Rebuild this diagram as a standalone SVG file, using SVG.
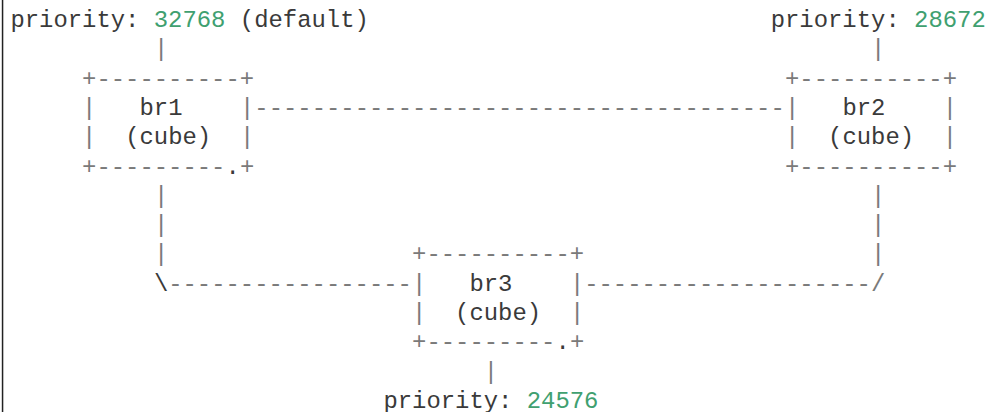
<svg xmlns="http://www.w3.org/2000/svg" width="987" height="412" viewBox="0 0 987 412">
<style>
text{font-family:"Liberation Mono","Courier New",monospace;font-size:23.9px;fill:#3a3a3a;white-space:pre}
.o{fill:#7a7a7a}
.n{fill:#40a070}
</style>
<rect x="0" y="0" width="987" height="412" fill="#ffffff"/>
<rect x="1.8" y="0" width="1.5" height="412" fill="#222222"/>
<g id="prio1">
<text x="10.4" y="27" xml:space="preserve">priority: <tspan class="n">32768</tspan> (default)</text>
</g>
<g id="prio2">
<text x="770.7" y="27" xml:space="preserve">priority: <tspan class="n">28672</tspan></text>
</g>
<g id="prio3">
<text x="383.4" y="407.9" xml:space="preserve">priority: <tspan class="n">24576</tspan></text>
</g>
<g id="br1">
<text x="82.1" y="85.6" class="o">+----------+</text>
<text x="82.1" y="114.9" class="o">|</text>
<text x="139.5" y="114.9">br1</text>
<text x="239.9" y="114.9" class="o">|</text>
<text x="82.1" y="144.2" class="o">|</text>
<text x="125.2" y="144.2">(cube)</text>
<text x="239.9" y="144.2" class="o">|</text>
<text x="82.1" y="173.5" class="o">+---------</text>
<text x="225.6" y="173.5">.</text>
<text x="239.9" y="173.5" class="o">+</text>
</g>
<g id="br2">
<text x="785.0" y="85.6" class="o">+----------+</text>
<text x="785.0" y="114.9" class="o">|</text>
<text x="842.4" y="114.9">br2</text>
<text x="942.8" y="114.9" class="o">|</text>
<text x="785.0" y="144.2" class="o">|</text>
<text x="828.1" y="144.2">(cube)</text>
<text x="942.8" y="144.2" class="o">|</text>
<text x="785.0" y="173.5" class="o">+----------+</text>
</g>
<g id="br3">
<text x="412.1" y="261.4" class="o">+----------+</text>
<text x="412.1" y="290.7" class="o">|</text>
<text x="469.4" y="290.7">br3</text>
<text x="569.9" y="290.7" class="o">|</text>
<text x="412.1" y="320" class="o">|</text>
<text x="455.1" y="320">(cube)</text>
<text x="569.9" y="320" class="o">|</text>
<text x="412.1" y="349.3" class="o">+---------</text>
<text x="555.5" y="349.3">.</text>
<text x="569.9" y="349.3" class="o">+</text>
</g>
<g id="connectors">
<text x="153.9" y="56.3" class="o">|</text>
<text x="871.1" y="56.3" class="o">|</text>
<text x="254.3" y="114.9" class="o">-------------------------------------</text>
<text x="153.9" y="202.8" class="o">|</text>
<text x="871.1" y="202.8" class="o">|</text>
<text x="153.9" y="232.1" class="o">|</text>
<text x="871.1" y="232.1" class="o">|</text>
<text x="153.9" y="261.4" class="o">|</text>
<text x="871.1" y="261.4" class="o">|</text>
<text x="153.9" y="290.7">\</text>
<text x="168.2" y="290.7" class="o">-----------------</text>
<text x="584.2" y="290.7" class="o">--------------------</text>
<text x="871.1" y="290.7" class="o">/</text>
<text x="483.8" y="378.6" class="o">|</text>
</g>
</svg>
